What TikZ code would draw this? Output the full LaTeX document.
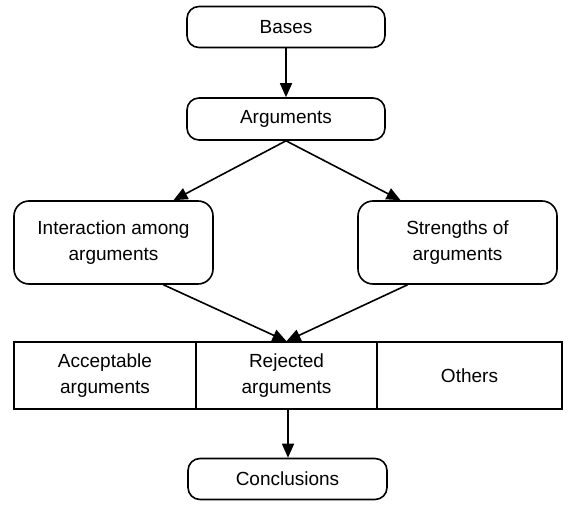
\documentclass[tikz,border=0pt]{standalone}
\usepackage{fontspec}
\setmainfont{Liberation Sans}
\usetikzlibrary{arrows.meta}
\begin{document}
\begin{tikzpicture}[x=1pt,y=-1pt,
  font=\fontsize{19}{26}\selectfont,
  box/.style={draw, line width=1.6pt, rounded corners=12pt, inner sep=0pt, align=center},
  cell/.style={draw, line width=1.6pt, inner sep=0pt, align=center, minimum height=67pt},
  conn/.style={line width=1.6pt, -{Triangle[length=14pt,width=12pt]}}]
\useasboundingbox[fill=white] (0,0) rectangle (572,508);
\node[box, minimum width=198pt, minimum height=41pt] (bases) at (286,27) {Bases};
\node[box, minimum width=198pt, minimum height=42pt] (args) at (286,119) {Arguments};
\node[box, rounded corners=15pt, minimum width=199pt, minimum height=83pt] (inter) at (113.5,242.5) {Interaction among\\arguments};
\node[box, rounded corners=15pt, minimum width=199pt, minimum height=83pt] (str) at (457.5,242.5) {Strengths of\\arguments};
\node[cell, minimum width=182pt] (acc) at (105,375.5) {Acceptable\\arguments};
\node[cell, minimum width=181pt] (rej) at (286.5,375.5) {Rejected\\arguments};
\node[cell, minimum width=185pt] (oth) at (469.5,375.5) {Others};
\node[box, minimum width=199pt, minimum height=41pt] (concl) at (287.5,479) {Conclusions};
\draw[conn] (bases.south) -- (args.north);
\draw[conn] (args.south) -- ([xshift=60pt]inter.north);
\draw[conn] (args.south) -- ([xshift=-57pt]str.north);
\draw[conn] ([xshift=50pt]inter.south) -- (rej.north);
\draw[conn] ([xshift=-50pt]str.south) -- (rej.north);
\draw[conn] ([xshift=1.5pt]rej.south) -- ([xshift=0.5pt]concl.north);
\end{tikzpicture}
\end{document}
